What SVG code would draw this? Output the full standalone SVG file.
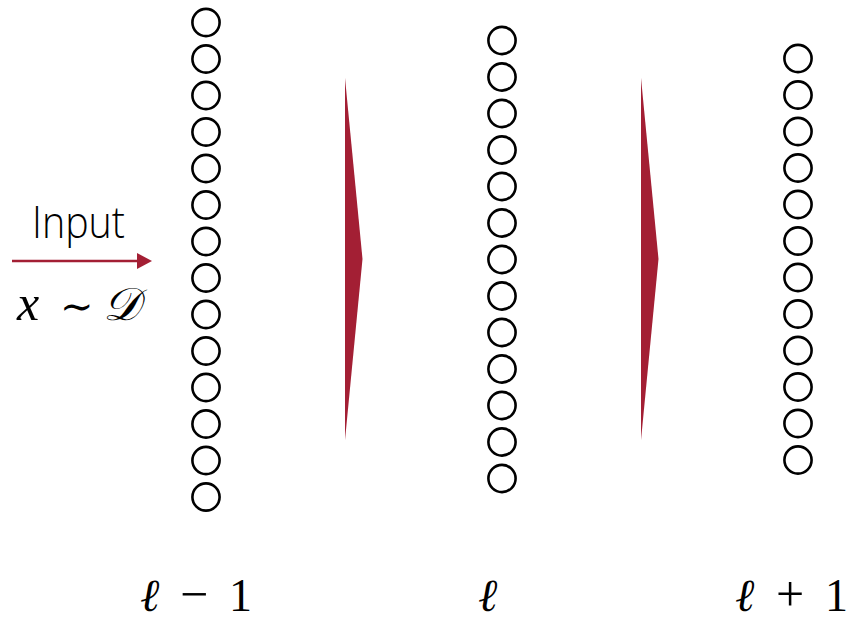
<svg xmlns="http://www.w3.org/2000/svg" width="851" height="623" viewBox="0 0 851 623">
<style>
.n{fill:none;stroke:#000;stroke-width:2.6}
.big{fill:#A31F34}
.math{font-family:"Liberation Serif","DejaVu Serif",serif;fill:#000}
.op{font-style:normal}
.lbl{font-family:"Open Sans","Liberation Sans",sans-serif;font-weight:300;fill:#000}
</style>
<defs>
<circle id="c" r="13.6" class="n"/>
</defs>
<rect width="851" height="623" fill="#fff"/>
<g id="layer-l-minus-1">
<use href="#c" x="206" y="22.5"/><use href="#c" x="206" y="59"/><use href="#c" x="206" y="95.5"/><use href="#c" x="206" y="132"/><use href="#c" x="206" y="168.5"/><use href="#c" x="206" y="205"/><use href="#c" x="206" y="241.5"/><use href="#c" x="206" y="278"/><use href="#c" x="206" y="314.5"/><use href="#c" x="206" y="351"/><use href="#c" x="206" y="387.5"/><use href="#c" x="206" y="424"/><use href="#c" x="206" y="460.5"/><use href="#c" x="206" y="497"/>
</g>
<g id="layer-l">
<use href="#c" x="502" y="40.5"/><use href="#c" x="502" y="77"/><use href="#c" x="502" y="113.5"/><use href="#c" x="502" y="150"/><use href="#c" x="502" y="186.5"/><use href="#c" x="502" y="223"/><use href="#c" x="502" y="259.5"/><use href="#c" x="502" y="296"/><use href="#c" x="502" y="332.5"/><use href="#c" x="502" y="369"/><use href="#c" x="502" y="405.5"/><use href="#c" x="502" y="442"/><use href="#c" x="502" y="478.5"/>
</g>
<g id="layer-l-plus-1">
<use href="#c" x="798" y="58.5"/><use href="#c" x="798" y="95"/><use href="#c" x="798" y="131.5"/><use href="#c" x="798" y="168"/><use href="#c" x="798" y="204.5"/><use href="#c" x="798" y="241"/><use href="#c" x="798" y="277.5"/><use href="#c" x="798" y="314"/><use href="#c" x="798" y="350.5"/><use href="#c" x="798" y="387"/><use href="#c" x="798" y="423.5"/><use href="#c" x="798" y="460"/>
</g>
<g id="connectors">
<polygon class="big" points="345,78 362.5,259 345,440"/>
<polygon class="big" points="641,78 658.5,259 641,440"/>
<line x1="12" y1="261" x2="140" y2="261" stroke="#A31F34" stroke-width="2.6"/>
<polygon fill="#A31F34" points="137,253 152,261 137,269"/>
</g>
<g id="input-label">
<text class="lbl" x="32" y="238" font-size="44" font-weight="200" textLength="93" lengthAdjust="spacingAndGlyphs">Input</text>
<text class="math" y="320"><tspan x="17" font-size="50" font-style="italic">x</tspan><tspan x="60" font-size="40" class="op">∼</tspan><tspan x="103" font-size="46" font-style="italic">𝒟</tspan></text>
</g>
<g id="layer-labels" class="math" font-size="46">
<text y="611"><tspan x="140" font-style="italic">ℓ</tspan><tspan x="180" class="op" font-size="50">−</tspan><tspan x="229">1</tspan></text>
<text y="611" x="478" font-style="italic">ℓ</text>
<text y="611"><tspan x="735" font-style="italic">ℓ</tspan><tspan x="776" class="op" font-size="50">+</tspan><tspan x="825">1</tspan></text>
</g>
</svg>
